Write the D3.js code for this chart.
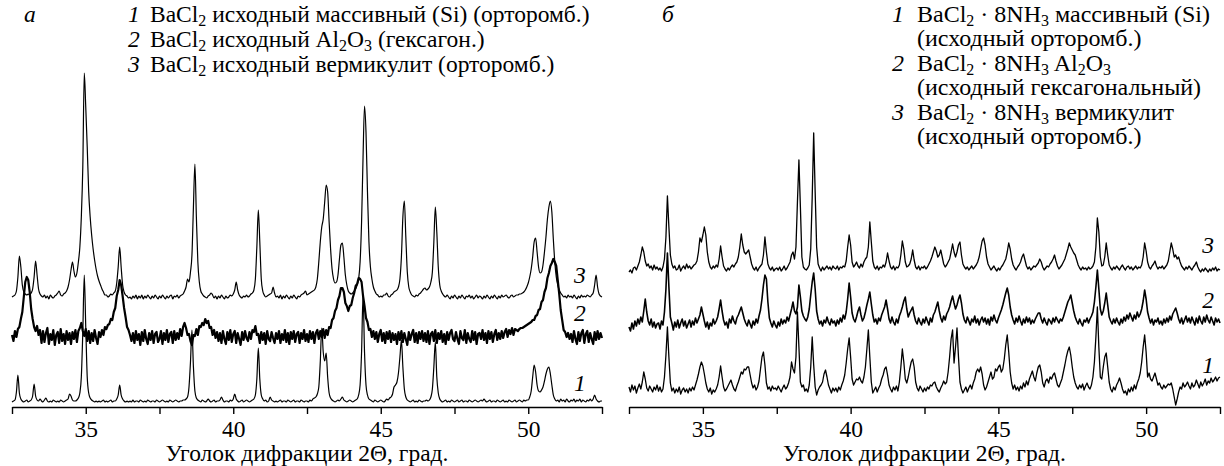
<!DOCTYPE html>
<html>
<head>
<meta charset="utf-8">
<script src="https://cdn.jsdelivr.net/npm/d3@7.9.0/dist/d3.min.js"></script>
<style>
  body { margin: 0; background: #fff; }
  svg text { font-family: "Liberation Serif", "Times New Roman", serif; fill: #000; }
</style>
</head>
<body>
<svg id="chart" width="1224" height="466"></svg>
<script>
// 2θ grid of the scans (step 0.05°, from 32.5° to 52.5°)
const thetaStart = 32.5;
const thetaStep = 0.05;
const xTickValues = [32.5, 35, 37.5, 40, 42.5, 45, 47.5, 50, 52.5];
const xTickLabels = { 35: '35', 40: '40', 45: '45', 50: '50' };
const xTitle = 'Уголок дифракции 2Θ, град.';
const panelLetters = ['а', 'б'];
const curveLabels = ['1', '2', '3'];

// panel а, intensities (arb. units, offset already included), one row = 1°
const a1 = [
  5,6,7,15,32,14,8,6,5,6,7,5,6,7,11,23,11,7,6,8,
  6,5,7,9,6,5,6,5,7,6,5,6,5,7,6,5,6,7,8,13,
  11,7,6,6,7,9,14,30,75,132,80,30,14,9,7,6,5,6,5,6,
  5,6,7,5,6,5,6,7,5,6,6,8,12,22,12,8,6,5,6,5,
  6,5,7,5,6,6,5,7,6,5,6,5,7,6,5,6,6,5,7,6,
  5,6,7,6,5,6,5,7,6,5,6,7,6,5,6,6,7,7,8,10,
  20,45,77,40,16,9,7,6,5,7,6,5,6,8,6,5,6,7,5,6,
  6,7,10,7,5,6,6,5,7,6,8,13,8,6,5,6,7,5,6,7,
  6,5,6,7,8,12,28,59,28,12,8,6,7,5,6,10,7,6,5,6,
  5,6,7,5,6,6,5,7,6,5,6,7,5,6,6,5,7,6,5,6,
  6,5,7,6,8,9,10,13,20,45,79,55,46,54,30,14,9,7,6,5,
  6,7,6,8,10,7,6,5,6,7,6,5,6,7,8,12,22,55,112,55,
  22,12,8,7,6,5,7,6,5,6,7,6,5,6,8,7,9,10,13,20,
  22,25,34,50,67,40,18,10,7,6,5,6,7,5,6,5,7,6,5,6,
  6,7,6,7,10,18,40,65,30,14,8,6,5,6,7,5,6,5,7,6,
  5,6,7,5,6,7,5,6,6,5,7,6,5,6,7,6,5,6,7,6,
  8,6,5,6,7,5,6,6,5,7,6,5,6,7,5,6,5,7,6,5,
  6,7,5,6,7,6,5,7,6,7,7,10,16,30,42,35,22,16,15,17,
  20,26,33,38,40,33,22,12,8,6,7,5,8,6,7,5,8,6,5,7,
  6,8,5,7,6,8,5,7,6,5,7,6,8,6,8,12,8,6,5,6,
  6
];
const a2 = [
  72,66,76,70,78,80,88,95,110,125,130,127,115,98,88,80,76,81,72,77,
  64,76,65,74,79,63,73,67,77,62,72,75,64,78,66,73,63,76,67,74,
  63,75,68,77,65,76,79,84,76,71,78,66,76,64,74,66,77,69,63,75,
  70,77,72,80,78,82,83,88,87,95,99,111,117,127,122,111,99,90,80,77,
  72,66,74,64,76,67,73,62,75,66,77,68,63,74,67,76,64,73,75,65,
  68,76,63,74,67,77,65,73,75,64,76,67,74,68,78,71,80,84,79,72,
  73,66,62,72,71,78,72,81,80,84,82,88,84,86,79,80,72,77,69,75,
  66,74,64,76,68,63,75,67,77,65,73,76,64,74,68,62,75,67,76,69,
  66,75,68,77,75,81,72,73,64,75,67,74,63,76,68,66,75,69,64,74,
  68,76,64,73,67,77,65,74,63,75,68,76,65,73,75,64,74,68,77,66,
  73,65,76,68,75,64,74,77,68,76,70,78,69,77,72,80,79,87,89,96,
  99,107,111,119,119,115,104,101,96,101,102,109,114,121,123,129,128,125,111,101,
  89,85,77,78,70,76,68,75,65,73,77,66,74,64,75,68,76,65,74,67,
  73,63,75,67,76,65,74,68,62,75,67,73,77,65,74,64,75,68,76,66,
  74,65,76,63,73,75,66,77,64,74,68,76,65,73,63,75,67,74,77,68,
  66,75,68,63,76,69,67,77,64,74,68,65,76,67,75,63,73,74,68,77,
  67,74,64,76,68,75,65,73,77,67,74,68,76,69,75,78,70,77,73,79,
  72,78,77,76,78,79,79,80,81,82,83,84,85,87,87,91,92,97,98,105,
  107,115,119,129,134,141,144,148,145,141,127,113,97,87,77,75,70,74,68,73,
  65,76,68,63,75,66,74,77,64,73,76,65,74,68,63,75,67,76,68,74,
  69
];
const a3 = [
  110,111,112,116,130,151,140,122,115,113,112,113,112,114,118,130,146,132,118,113,
  111,110,112,109,111,108,112,110,109,111,112,114,116,112,111,113,114,116,120,127,
  137,145,136,130,134,145,160,190,240,334,300,260,215,190,172,158,147,138,131,126,
  122,118,115,112,112,110,111,113,112,114,116,124,140,160,140,122,115,112,111,109,
  110,108,111,109,112,108,111,109,112,108,111,109,112,110,108,111,109,112,110,108,
  111,109,112,110,108,111,109,111,112,108,111,110,112,109,111,112,113,116,120,128,
  125,135,152,200,243,190,145,125,116,113,111,110,109,111,112,114,112,109,111,108,
  111,109,112,110,108,111,109,110,112,111,113,117,125,117,112,110,109,111,110,112,
  110,111,113,114,117,128,160,197,165,128,116,112,110,111,112,113,114,120,114,110,
  111,109,112,108,111,109,112,110,108,111,109,112,110,108,111,110,112,113,114,116,
  112,113,114,115,116,117,120,128,145,165,180,188,205,222,215,185,158,138,128,124,
  125,132,148,162,164,150,132,122,116,114,113,114,116,118,122,128,145,185,250,301,
  275,215,165,140,128,120,116,113,112,110,111,110,112,112,114,111,110,112,113,115,
  116,117,120,128,150,190,206,170,135,120,115,112,111,110,112,111,113,114,116,118,
  119,117,118,120,125,135,165,200,175,140,122,116,113,111,110,112,110,108,111,109,
  112,110,108,111,109,112,110,108,111,110,112,109,111,108,110,112,109,111,110,108,
  111,109,112,110,108,111,109,112,110,108,111,109,112,110,111,112,110,109,111,112,
  110,111,112,112,113,113,114,115,117,120,124,130,138,150,165,169,155,140,134,135,
  142,155,170,188,200,206,195,168,145,130,122,117,114,112,110,111,109,112,110,111,
  109,112,110,108,111,109,112,110,111,110,112,111,110,112,114,122,132,120,113,111,
  110
];

// panel б
const b1 = [
  20,15,22,17,21,14,19,23,18,25,35,28,19,16,21,18,15,20,17,22,
  16,20,15,18,30,52,80,50,24,16,19,14,18,15,20,13,17,19,15,18,
  14,19,16,20,17,22,27,33,40,45,41,33,24,18,15,19,13,17,15,18,
  22,30,41,30,20,16,18,21,24,27,22,18,16,21,25,30,35,33,38,37,
  40,40,32,24,19,22,17,20,26,38,50,55,42,24,18,20,16,21,18,19,
  17,21,18,15,19,22,18,20,24,30,45,38,34,50,95,60,25,20,22,16,
  18,15,22,40,70,42,20,12,17,20,22,25,33,37,30,22,18,14,19,16,
  19,15,20,17,22,26,32,44,58,69,50,28,22,25,28,27,30,26,24,30,
  40,58,77,50,25,14,17,20,15,19,22,28,32,38,40,32,22,18,15,20,
  17,21,16,25,40,58,45,28,24,30,38,45,48,40,25,19,16,21,18,15,
  19,16,20,18,22,21,24,25,20,17,15,19,22,26,23,25,35,50,68,77,
  44,60,79,50,25,18,14,17,20,15,19,22,18,24,28,35,38,35,40,33,
  22,17,20,25,30,35,28,30,38,36,40,42,35,38,48,62,72,55,35,24,
  18,22,17,20,16,21,18,24,20,26,22,28,32,36,30,26,34,40,42,35,
  24,20,26,28,24,30,28,32,34,28,22,20,24,28,35,42,50,56,60,52,
  40,30,24,20,18,22,19,23,17,21,24,20,18,22,30,45,70,100,60,30,
  28,40,50,54,40,25,18,15,20,17,22,25,29,24,18,14,16,12,18,15,
  20,16,22,18,24,28,34,45,60,72,55,30,34,28,26,30,34,28,22,24,
  20,18,22,19,21,23,22,24,18,10,2,8,15,20,18,24,20,22,25,21,
  18,24,20,22,27,23,19,25,21,24,28,22,26,24,29,25,27,30,26,29,
  30
];
const b2 = [
  80,76,84,78,86,81,88,83,90,85,96,108,95,86,82,88,80,85,79,83,
  84,78,86,82,95,118,154,120,90,84,77,85,80,87,79,84,88,81,86,79,
  83,87,80,86,82,89,84,88,92,100,93,86,80,85,78,84,81,88,83,86,
  90,98,107,96,87,82,85,79,88,84,91,86,83,89,92,96,100,94,88,84,
  81,87,83,79,86,82,88,84,91,97,108,122,132,128,105,89,84,80,86,82,
  79,85,81,88,83,87,84,90,86,92,98,105,96,93,100,122,110,96,91,88,
  86,90,98,112,125,134,118,96,88,83,86,81,87,84,90,85,82,88,84,86,
  81,87,83,89,85,92,88,95,108,124,110,94,88,85,90,96,100,92,86,89,
  95,102,108,115,103,92,85,88,83,89,86,92,96,100,107,98,88,84,90,85,
  82,88,84,91,95,100,106,110,98,90,94,97,100,92,86,83,89,85,82,88,
  84,90,86,82,89,85,92,95,100,105,96,89,85,91,87,93,96,100,106,111,
  104,98,102,108,112,104,93,87,84,90,86,82,88,85,91,84,88,82,87,90,
  85,89,83,88,82,90,86,92,87,84,89,93,97,102,108,114,119,112,100,92,
  87,83,89,85,91,86,82,88,84,90,85,89,83,87,84,88,91,94,94,88,
  84,89,85,82,88,86,83,89,85,90,87,84,88,86,90,95,100,105,108,112,
  104,96,90,86,83,88,84,81,87,85,89,84,88,91,95,105,120,137,118,98,
  92,96,104,114,102,90,86,83,88,84,89,85,82,88,84,90,86,92,88,94,
  90,86,92,88,95,90,93,98,106,117,108,95,89,84,88,82,87,85,89,83,
  86,82,88,84,89,85,91,87,93,96,99,94,88,84,89,83,87,91,85,89,
  84,90,86,82,89,84,91,86,83,90,85,92,87,84,90,86,82,89,85,88,
  84
];
const b3 = [
  135,137,134,139,140,137,141,145,152,160,155,146,141,143,139,141,137,142,138,140,
  137,139,136,140,148,170,211,180,152,143,139,141,137,138,142,136,139,141,138,143,
  139,141,138,140,142,143,146,155,169,165,172,180,172,155,145,140,138,141,139,142,
  140,148,161,150,141,138,136,139,137,140,142,140,143,145,150,160,173,162,155,153,
  155,157,150,143,139,137,140,136,139,141,143,152,170,155,143,139,137,140,136,138,
  139,137,140,136,138,141,137,139,142,145,152,155,148,160,205,247,200,150,140,138,
  137,139,142,158,210,274,215,160,143,139,136,140,137,139,141,138,140,137,141,139,
  138,141,137,140,139,141,140,146,160,172,162,145,140,142,145,141,139,143,140,145,
  148,150,160,185,165,146,140,138,141,137,140,139,142,140,145,154,146,140,138,141,
  137,140,139,142,152,166,158,145,140,141,143,148,157,147,140,138,141,137,140,139,
  141,138,140,143,146,150,155,160,156,150,152,157,150,143,140,142,145,148,155,163,
  155,150,155,162,165,152,143,140,138,140,137,139,141,138,140,142,145,150,158,166,
  169,162,150,143,140,137,139,141,138,136,139,137,140,142,145,148,155,164,158,148,
  142,139,137,140,142,145,150,153,147,141,138,140,137,139,141,140,142,144,148,145,
  140,137,139,141,140,143,145,148,152,146,141,138,140,142,145,148,153,158,164,160,
  157,154,152,147,142,139,137,140,138,139,137,140,138,139,141,145,160,189,175,150,
  141,142,150,164,152,142,139,137,140,138,141,139,137,140,142,139,137,140,141,138,
  140,137,139,141,138,140,139,142,150,164,156,145,140,138,141,143,146,141,138,140,
  139,141,138,140,142,146,155,164,158,150,152,148,150,145,141,139,137,140,138,141,
  139,137,140,142,145,140,137,135,138,136,139,137,135,138,136,139,137,140,136,138,
  137
];

// legend texts: [text, subscript?]
const legendA = [
  ['1', [['BaCl', 0], ['2', 1], [' исходный массивный (Si) (орторомб.)', 0]]],
  ['2', [['BaCl', 0], ['2', 1], [' исходный Al', 0], ['2', 1], ['O', 0], ['3', 1], [' (гексагон.)', 0]]],
  ['3', [['BaCl', 0], ['2', 1], [' исходный вермикулит (орторомб.)', 0]]]
];
const legendB = [
  ['1', [['BaCl', 0], ['2', 1], [' · 8NH', 0], ['3', 1], [' массивный (Si)', 0]]],
  ['', [['(исходный орторомб.)', 0]]],
  ['2', [['BaCl', 0], ['2', 1], [' · 8NH', 0], ['3', 1], [' Al', 0], ['2', 1], ['O', 0], ['3', 1]]],
  ['', [['(исходный гексагональный)', 0]]],
  ['3', [['BaCl', 0], ['2', 1], [' · 8NH', 0], ['3', 1], [' вермикулит', 0]]],
  ['', [['(исходный орторомб.)', 0]]]
];

const svg = d3.select('#chart');
const fontSize = 23.5;

const y = d3.scaleLinear().domain([0, 350]).range([407, 57]);

const panels = [
  { x0: 12, x1: 602, series: [a1, a2, a3], widths: [1.2, 2.2, 1.2], curves: [d3.curveMonotoneX, d3.curveLinear, d3.curveMonotoneX],
    labelY: [16, 86, 124], labelX: 51.75, letterX: 24, legend: legendA, legendX: 128, legendTextX: 150,
    legendY: 22, legendDy: 25, legendSize: 23.5 },
  { x0: 629, x1: 1220, series: [b1, b2, b3], widths: [1.3, 1.6, 1.3], curves: [d3.curveLinear, d3.curveLinear, d3.curveLinear],
    labelY: [34, 99, 154], labelX: 52.1, letterX: 662, legend: legendB, legendX: 892, legendTextX: 917,
    legendY: 22, legendDy: 24.4, legendSize: 24 }
];

panels.forEach((p, pi) => {
  const x = d3.scaleLinear().domain([32.5, 52.5]).range([p.x0, p.x1]);
  const g = svg.append('g');

  const axis = d3.axisBottom(x)
    .tickValues(xTickValues)
    .tickFormat(d => xTickLabels[d] || '')
    .tickSize(7)
    .tickSizeOuter(0)
    .tickPadding(6);
  const ax = g.append('g').attr('transform', `translate(0,${y(0)})`).call(axis);
  ax.attr('font-family', null);
  ax.select('.domain').attr('stroke', '#000').attr('stroke-width', 1.4);
  ax.selectAll('.tick line').attr('stroke', '#000').attr('stroke-width', 1.4);
  ax.selectAll('.tick text').attr('font-size', fontSize).attr('fill', '#000');

  g.append('text')
    .attr('x', (p.x0 + p.x1) / 2)
    .attr('y', 461)
    .attr('text-anchor', 'middle')
    .attr('font-size', fontSize)
    .text(xTitle);

  p.series.forEach((s, si) => {
    const line = d3.line()
      .x((d, i) => x(thetaStart + i * thetaStep))
      .y(d => y(d))
      .curve(p.curves[si]);
    g.append('path')
      .datum(s)
      .attr('fill', 'none')
      .attr('stroke', '#000')
      .attr('stroke-width', p.widths[si])
      .attr('stroke-linejoin', 'round')
      .attr('d', line);

    g.append('text')
      .attr('x', x(p.labelX))
      .attr('y', y(p.labelY[si]))
      .attr('font-size', fontSize)
      .attr('font-style', 'italic')
      .attr('text-anchor', 'middle')
      .text(curveLabels[si]);
  });

  g.append('text')
    .attr('x', p.letterX)
    .attr('y', 22)
    .attr('font-size', fontSize)
    .attr('font-style', 'italic')
    .text(panelLetters[pi]);

  const subSize = Math.round(p.legendSize * 0.68);
  p.legend.forEach((row, ri) => {
    const ly = p.legendY + ri * p.legendDy;
    if (row[0]) {
      g.append('text')
        .attr('x', p.legendX)
        .attr('y', ly)
        .attr('font-size', p.legendSize)
        .attr('font-style', 'italic')
        .text(row[0]);
    }
    const t = g.append('text')
      .attr('x', p.legendTextX)
      .attr('y', ly)
      .attr('font-size', p.legendSize);
    let sub = false;
    row[1].forEach(([txt, isSub]) => {
      const ts = t.append('tspan').text(txt);
      if (isSub) ts.attr('font-size', subSize);
      if (isSub && !sub) ts.attr('dy', 4);
      else if (!isSub && sub) ts.attr('dy', -4);
      sub = !!isSub;
    });
  });
});
</script>
</body>
</html>
